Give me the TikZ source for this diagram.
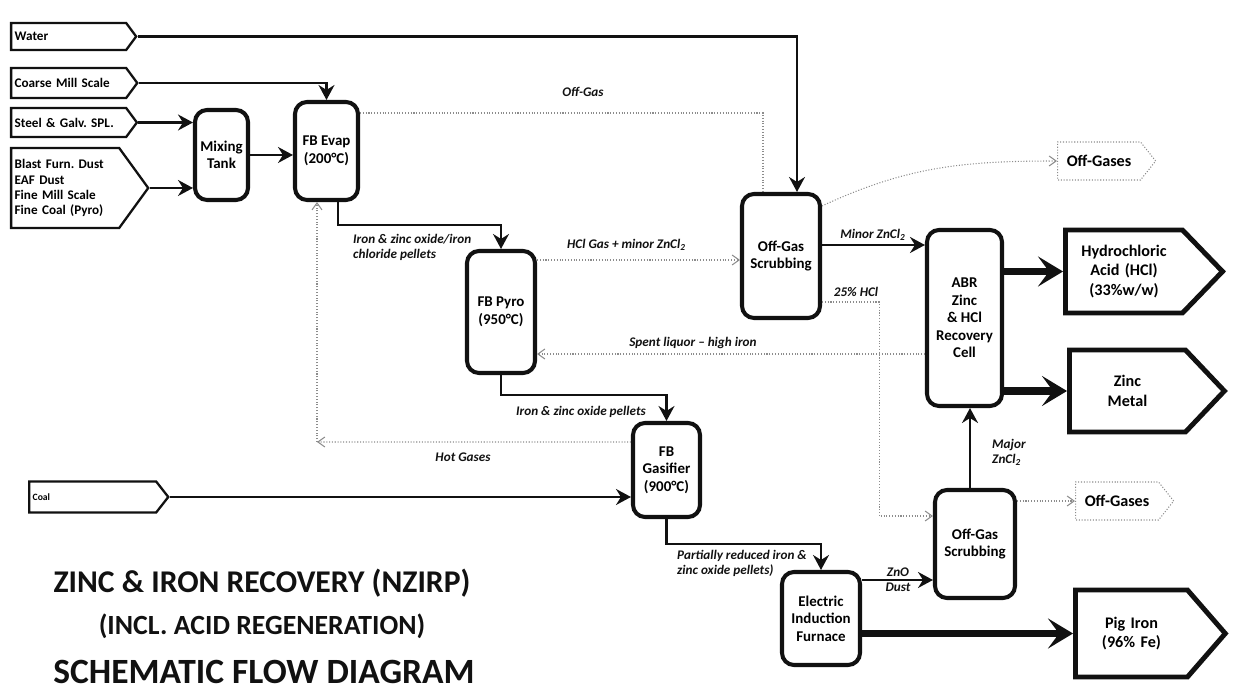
\documentclass[tikz,border=0pt]{standalone}
\usepackage{fontspec}
\setmainfont{Carlito}
\usetikzlibrary{arrows.meta,calc,positioning,shapes.symbols}
\definecolor{Ink}{HTML}{111111}
\definecolor{Fog}{HTML}{8C8C8C}
\frenchspacing

\begin{document}
\begin{tikzpicture}[
  unit/.style={draw=Ink,rounded corners=2.4mm,line width=2.3pt,align=center,
    font=\fontsize{8.5}{10}\selectfont\bfseries,inner sep=1pt},
  feed/.style={shape=signal,signal to=east,draw=Ink,line width=1.3pt,anchor=west,
    align=left,font=\fontsize{7.5}{8.6}\selectfont\bfseries,inner xsep=2pt,inner ysep=0pt},
  product/.style={shape=signal,signal to=east,draw=Ink,line width=2.8pt,anchor=west,
    align=center,font=\fontsize{9.2}{11}\selectfont\bfseries,inner xsep=0pt,inner ysep=0pt},
  vent/.style={product,line width=0.6pt,draw=Fog,densely dotted},
  flow/.style={-{Stealth[length=3mm,width=3.2mm,inset=1mm]},line width=1.2pt,color=Ink},
  gas/.style={-{Straight Barb[length=1.4mm,width=2mm]},line width=0.6pt,color=Fog,densely dotted},
  bulk/.style={-{Stealth[length=5mm,width=6mm,inset=2.2mm]},line width=4.2pt,color=Ink},
  tag/.style={font=\fontsize{7.5}{8.6}\selectfont\bfseries\itshape,color=Ink},
  heading/.style={color=Ink}
]
\useasboundingbox (0,0) rectangle (24.86,13.86);

% feed streams
\node[feed,minimum height=5.4mm,text width=21.6mm,signal pointer angle=107] (water) at (0.2,13.13) {Water};
\node[feed,minimum height=6mm,text width=21.6mm,signal pointer angle=107] (coarse) at (0.2,12.2) {Coarse Mill Scale};
\node[feed,minimum height=5.8mm,text width=21.6mm,signal pointer angle=107] (steel) at (0.2,11.41) {Steel \& Galv. SPL.};
\node[feed,minimum height=16mm,text width=20.2mm,signal pointer angle=108] (dust) at (0.2,10.1) {Blast Furn. Dust\\EAF Dust\\Fine Mill Scale\\Fine Coal (Pyro)};
\node[feed,minimum height=6.2mm,text width=24mm,signal pointer angle=104,
  font=\fontsize{5.5}{6.5}\selectfont\bfseries] (coal) at (0.56,3.92) {Coal};

% process units
\node[unit,minimum width=10.6mm,minimum height=18mm] (mix) at (4.43,10.76) {Mixing\\Tank};
\node[unit,minimum width=12.6mm,minimum height=19.6mm] (evap) at (6.53,10.84) {FB Evap\\(200°C)};
\node[unit,minimum width=13.6mm,minimum height=24.4mm] (pyro) at (10.02,7.62) {FB Pyro\\(950°C)};
\node[unit,minimum width=13.4mm,minimum height=18.8mm] (gasifier) at (13.33,4.46) {FB\\Gasifier\\(900°C)};
\node[unit,minimum width=15.6mm,minimum height=24.8mm] (scrubA) at (15.62,8.74) {Off-Gas\\Scrubbing};
\node[unit,minimum width=15mm,minimum height=35.2mm] (abr) at (19.29,7.5) {ABR\\Zinc\\\& HCl\\Recovery\\Cell};
\node[unit,minimum width=16mm,minimum height=21.6mm] (scrubB) at (19.5,2.98) {Off-Gas\\Scrubbing};
\node[unit,minimum width=15.6mm,minimum height=18.6mm] (furnace) at (16.42,1.49) {Electric\\Induction\\Furnace};

% products
\node[vent,minimum height=7.6mm,text width=16.6mm,signal pointer angle=103] (ventA) at (21.14,10.64) {Off-Gases};
\node[vent,minimum height=7.6mm,text width=16.6mm,signal pointer angle=103] (ventB) at (21.5,3.84) {Off-Gases};
\node[product,minimum height=16.6mm,text width=23.4mm,signal pointer angle=92] (hcl) at (21.26,8.43) {Hydrochloric\\Acid (HCl)\\(33\%w/w)};
\node[product,minimum height=16.4mm,text width=23.2mm,signal pointer angle=93] (zinc) at (21.34,6.04) {Zinc\\Metal};
\node[product,minimum height=17.4mm,text width=22.4mm,signal pointer angle=98] (pig) at (21.46,1.19) {Pig Iron\\(96\% Fe)};

% solids and liquors
\draw[flow] (water.east) -| ([xshift=3.2mm]scrubA.north);
\draw[flow] (coarse.east) -| (evap.north);
\draw[flow] (steel.east) -- (steel.east -| mix.west);
\draw[flow] (dust.east) -- (dust.east -| mix.west);
\draw[flow] (mix.east) -- (mix.east -| evap.west);
\draw[flow] ([xshift=2.3mm]evap.south) -- ++(0,-0.46) -| (pyro.north);
\draw[flow] (pyro.south) -- ++(0,-0.4) -| (gasifier.north);
\draw[flow] (gasifier.south) -- ++(0,-0.5) -| (furnace.north);
\draw[flow] (coal.east) -- (coal.east -| gasifier.west);
\draw[flow] ([yshift=7.7mm]furnace.east) -- ([yshift=7.7mm]furnace.east -| scrubB.west);
\draw[flow] ([yshift=2.2mm]scrubA.east) -- ([yshift=2.2mm]scrubA.east -| abr.west);
\draw[flow] ([xshift=-1mm]scrubB.north) -- ([xshift=-1mm]scrubB.north |- abr.south);
\draw[bulk] (abr.east |- hcl.west) -- (hcl.west);
\draw[bulk] (abr.east |- zinc.west) -- (zinc.west);
\draw[bulk] (furnace.east |- pig.west) -- (pig.west);

% gases
\coordinate (hotturn) at (6.34,5.02);
\draw[gas,-] ([yshift=7.6mm]evap.east) -| ([xshift=-3.6mm]scrubA.north);
\draw[gas] ([yshift=10.4mm]pyro.east) -- ([yshift=10.4mm]pyro.east -| scrubA.west);
\draw[gas] ([yshift=-7.2mm]abr.west) -- ([yshift=-7.2mm]abr.west -| pyro.east);
\draw[gas] ([yshift=-9.2mm]scrubA.east) -- ++(1.14,0) |- ([yshift=5.6mm]scrubB.west);
\draw[gas] ([yshift=-2.8mm]scrubA.north east) to[out=25,in=180] (ventA.west);
\draw[gas] (scrubB.east |- ventB.west) -- (ventB.west);
\draw[gas] ([yshift=5.6mm]gasifier.west) -- (hotturn);
\draw[gas] (hotturn) -- (hotturn |- evap.south);

% stream labels
\node[tag,anchor=north west,align=left] (lblpellets) at (6.94,9.3) {Iron \& zinc oxide/iron\\chloride pellets};
\node[tag] (lbloffgas) at (11.66,12.02) {Off-Gas};
\node[tag] (lblhclgas) at (12.53,8.96) {HCl Gas + minor ZnCl\textsubscript{2}};
\node[tag] (lblliquor) at (13.86,7.0) {Spent liquor – high iron};
\node[tag] (lblminor) at (17.46,9.16) {Minor ZnCl\textsubscript{2}};
\node[tag] (lblacid) at (17.12,8.02) {25\% HCl};
\node[tag,anchor=north west] (lbloxide) at (10.2,5.86) {Iron \& zinc oxide pellets};
\node[tag] (lblhot) at (9.26,4.72) {Hot Gases};
\node[tag,anchor=north west,align=left] (lblreduced) at (13.42,2.98) {Partially reduced iron \&\\zinc oxide pellets)};
\node[tag,align=center] (lbldust) at (17.96,2.27) {ZnO\\Dust};
\node[tag,anchor=west,align=left] (lblmajor) at (19.72,4.82) {Major\\ZnCl\textsubscript{2}};

% title block
\node[heading,font=\fontsize{18}{20}\selectfont\bfseries] (title) at (5.24,2.2) {ZINC \& IRON RECOVERY (NZIRP)};
\node[heading,font=\fontsize{15.8}{18}\selectfont\bfseries] (subtitle) at (5.24,1.34) {(INCL. ACID REGENERATION)};
\node[heading,font=\fontsize{20.2}{22}\selectfont\bfseries] (caption) at (5.28,0.42) {SCHEMATIC FLOW DIAGRAM};
\end{tikzpicture}
\end{document}
